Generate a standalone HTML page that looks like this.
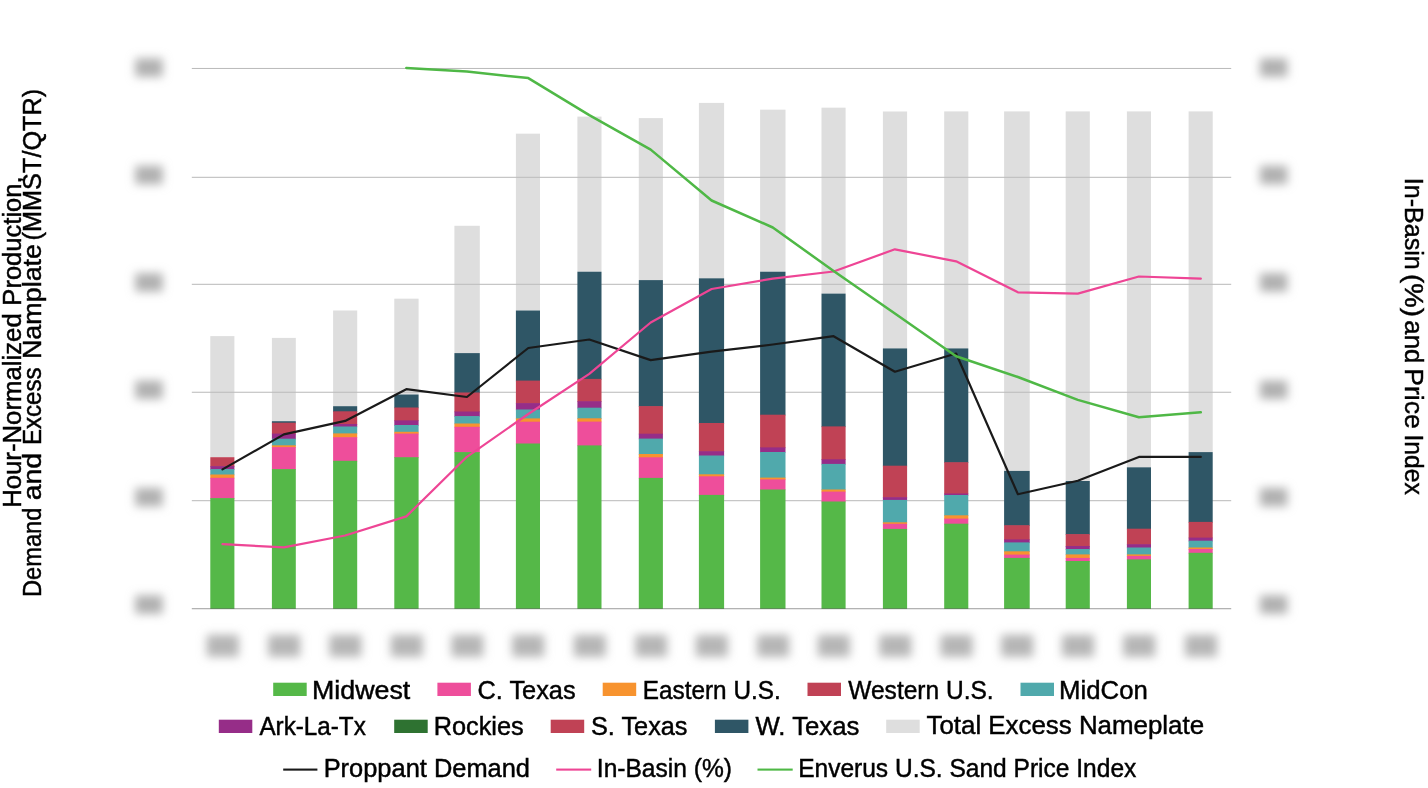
<!DOCTYPE html>
<html><head><meta charset="utf-8"><title>Chart</title>
<style>html,body{margin:0;padding:0;background:#fff;}body{width:1428px;height:788px;overflow:hidden;}svg{display:block;will-change:transform;}text{font-family:"Liberation Sans",sans-serif;fill:#000;stroke:#000;stroke-width:0.45px;}</style>
</head><body>
<svg width="1428" height="788" viewBox="0 0 1428 788">
<defs><filter id="b" x="-100%" y="-150%" width="300%" height="400%"><feGaussianBlur stdDeviation="5"/></filter></defs>
<rect x="191.8" y="67.95" width="1039.4" height="1" fill="#B9B9B9"/>
<rect x="191.8" y="176.80" width="1039.4" height="1" fill="#B9B9B9"/>
<rect x="191.8" y="283.80" width="1039.4" height="1" fill="#B9B9B9"/>
<rect x="191.8" y="391.75" width="1039.4" height="1" fill="#B9B9B9"/>
<rect x="191.8" y="500.20" width="1039.4" height="1" fill="#B9B9B9"/>
<rect x="210.3" y="336.1" width="24.1" height="121.1" fill="#BEBEBE" fill-opacity="0.5"/>
<rect x="210.3" y="457.2" width="24.1" height="9.6" fill="#C04255"/>
<rect x="210.3" y="466.1" width="24.1" height="3.7" fill="#962D88"/>
<rect x="210.3" y="469.1" width="24.1" height="6.1" fill="#50A9AC"/>
<rect x="210.3" y="474.5" width="24.1" height="4.0" fill="#F7932F"/>
<rect x="210.3" y="477.8" width="24.1" height="21.0" fill="#EE4E9B"/>
<rect x="210.3" y="498.1" width="24.1" height="110.8" fill="#55B848"/>
<rect x="271.9" y="337.9" width="23.9" height="83.3" fill="#BEBEBE" fill-opacity="0.5"/>
<rect x="271.9" y="421.2" width="23.9" height="2.2" fill="#2F5666"/>
<rect x="271.9" y="422.7" width="23.9" height="11.6" fill="#C04255"/>
<rect x="271.9" y="433.6" width="23.9" height="5.8" fill="#962D88"/>
<rect x="271.9" y="438.7" width="23.9" height="7.3" fill="#50A9AC"/>
<rect x="271.9" y="445.3" width="23.9" height="2.5" fill="#F7932F"/>
<rect x="271.9" y="447.1" width="23.9" height="22.7" fill="#EE4E9B"/>
<rect x="271.9" y="469.1" width="23.9" height="139.8" fill="#55B848"/>
<rect x="333.1" y="310.5" width="24.1" height="95.7" fill="#BEBEBE" fill-opacity="0.5"/>
<rect x="333.1" y="406.2" width="24.1" height="5.8" fill="#2F5666"/>
<rect x="333.1" y="411.3" width="24.1" height="13.4" fill="#C04255"/>
<rect x="333.1" y="424.0" width="24.1" height="3.2" fill="#962D88"/>
<rect x="333.1" y="426.5" width="24.1" height="7.6" fill="#50A9AC"/>
<rect x="333.1" y="433.4" width="24.1" height="4.5" fill="#F7932F"/>
<rect x="333.1" y="437.2" width="24.1" height="24.3" fill="#EE4E9B"/>
<rect x="333.1" y="460.8" width="24.1" height="148.1" fill="#55B848"/>
<rect x="394.3" y="298.7" width="24.3" height="95.8" fill="#BEBEBE" fill-opacity="0.5"/>
<rect x="394.3" y="394.5" width="24.3" height="13.7" fill="#2F5666"/>
<rect x="394.3" y="407.5" width="24.3" height="13.6" fill="#C04255"/>
<rect x="394.3" y="420.4" width="24.3" height="5.3" fill="#962D88"/>
<rect x="394.3" y="425.0" width="24.3" height="7.5" fill="#50A9AC"/>
<rect x="394.3" y="431.8" width="24.3" height="2.5" fill="#F7932F"/>
<rect x="394.3" y="433.6" width="24.3" height="24.3" fill="#EE4E9B"/>
<rect x="394.3" y="457.2" width="24.3" height="151.7" fill="#55B848"/>
<rect x="454.4" y="225.8" width="25.4" height="127.3" fill="#BEBEBE" fill-opacity="0.5"/>
<rect x="454.4" y="353.1" width="25.4" height="40.1" fill="#2F5666"/>
<rect x="454.4" y="392.5" width="25.4" height="19.7" fill="#C04255"/>
<rect x="454.4" y="411.5" width="25.4" height="5.3" fill="#962D88"/>
<rect x="454.4" y="416.1" width="25.4" height="8.1" fill="#50A9AC"/>
<rect x="454.4" y="423.5" width="25.4" height="4.0" fill="#F7932F"/>
<rect x="454.4" y="426.8" width="25.4" height="26.0" fill="#EE4E9B"/>
<rect x="454.4" y="452.1" width="25.4" height="156.8" fill="#55B848"/>
<rect x="515.9" y="133.7" width="24.1" height="176.8" fill="#BEBEBE" fill-opacity="0.5"/>
<rect x="515.9" y="310.5" width="24.1" height="70.8" fill="#2F5666"/>
<rect x="515.9" y="380.6" width="24.1" height="23.2" fill="#C04255"/>
<rect x="515.9" y="403.1" width="24.1" height="7.1" fill="#962D88"/>
<rect x="515.9" y="409.5" width="24.1" height="9.6" fill="#50A9AC"/>
<rect x="515.9" y="418.4" width="24.1" height="4.0" fill="#F7932F"/>
<rect x="515.9" y="421.7" width="24.1" height="22.5" fill="#EE4E9B"/>
<rect x="515.9" y="443.5" width="24.1" height="165.4" fill="#55B848"/>
<rect x="577.4" y="116.6" width="24.1" height="155.1" fill="#BEBEBE" fill-opacity="0.5"/>
<rect x="577.4" y="271.7" width="24.1" height="107.9" fill="#2F5666"/>
<rect x="577.4" y="378.9" width="24.1" height="23.0" fill="#C04255"/>
<rect x="577.4" y="401.2" width="24.1" height="7.2" fill="#962D88"/>
<rect x="577.4" y="407.7" width="24.1" height="11.3" fill="#50A9AC"/>
<rect x="577.4" y="418.3" width="24.1" height="4.0" fill="#F7932F"/>
<rect x="577.4" y="421.6" width="24.1" height="24.5" fill="#EE4E9B"/>
<rect x="577.4" y="445.4" width="24.1" height="163.5" fill="#55B848"/>
<rect x="638.8" y="118.1" width="24.1" height="162.0" fill="#BEBEBE" fill-opacity="0.5"/>
<rect x="638.8" y="280.1" width="24.1" height="126.7" fill="#2F5666"/>
<rect x="638.8" y="406.1" width="24.1" height="28.3" fill="#C04255"/>
<rect x="638.8" y="433.7" width="24.1" height="5.6" fill="#962D88"/>
<rect x="638.8" y="438.6" width="24.1" height="16.1" fill="#50A9AC"/>
<rect x="638.8" y="454.0" width="24.1" height="4.0" fill="#F7932F"/>
<rect x="638.8" y="457.3" width="24.1" height="21.3" fill="#EE4E9B"/>
<rect x="638.8" y="477.9" width="24.1" height="131.0" fill="#55B848"/>
<rect x="698.9" y="102.9" width="25.2" height="175.4" fill="#BEBEBE" fill-opacity="0.5"/>
<rect x="698.9" y="278.3" width="25.2" height="145.4" fill="#2F5666"/>
<rect x="698.9" y="423.0" width="25.2" height="28.9" fill="#C04255"/>
<rect x="698.9" y="451.2" width="25.2" height="5.0" fill="#962D88"/>
<rect x="698.9" y="455.5" width="25.2" height="19.5" fill="#50A9AC"/>
<rect x="698.9" y="474.3" width="25.2" height="2.7" fill="#F7932F"/>
<rect x="698.9" y="476.3" width="25.2" height="19.3" fill="#EE4E9B"/>
<rect x="698.9" y="494.9" width="25.2" height="114.0" fill="#55B848"/>
<rect x="760.1" y="109.7" width="25.4" height="162.0" fill="#BEBEBE" fill-opacity="0.5"/>
<rect x="760.1" y="271.7" width="25.4" height="143.7" fill="#2F5666"/>
<rect x="760.1" y="414.7" width="25.4" height="33.4" fill="#C04255"/>
<rect x="760.1" y="447.4" width="25.4" height="5.3" fill="#962D88"/>
<rect x="760.1" y="452.0" width="25.4" height="26.3" fill="#50A9AC"/>
<rect x="760.1" y="477.6" width="25.4" height="2.5" fill="#F7932F"/>
<rect x="760.1" y="479.4" width="25.4" height="10.8" fill="#EE4E9B"/>
<rect x="760.1" y="489.5" width="25.4" height="119.4" fill="#55B848"/>
<rect x="821.5" y="107.7" width="24.1" height="185.9" fill="#BEBEBE" fill-opacity="0.5"/>
<rect x="821.5" y="293.6" width="24.1" height="133.5" fill="#2F5666"/>
<rect x="821.5" y="426.4" width="24.1" height="33.6" fill="#C04255"/>
<rect x="821.5" y="459.3" width="24.1" height="5.3" fill="#962D88"/>
<rect x="821.5" y="463.9" width="24.1" height="26.3" fill="#50A9AC"/>
<rect x="821.5" y="489.5" width="24.1" height="2.8" fill="#F7932F"/>
<rect x="821.5" y="491.6" width="24.1" height="10.6" fill="#EE4E9B"/>
<rect x="821.5" y="501.5" width="24.1" height="107.4" fill="#55B848"/>
<rect x="882.9" y="111.5" width="24.2" height="236.9" fill="#BEBEBE" fill-opacity="0.5"/>
<rect x="882.9" y="348.4" width="24.2" height="118.0" fill="#2F5666"/>
<rect x="882.9" y="465.7" width="24.2" height="32.2" fill="#C04255"/>
<rect x="882.9" y="497.2" width="24.2" height="3.4" fill="#962D88"/>
<rect x="882.9" y="499.9" width="24.2" height="23.1" fill="#50A9AC"/>
<rect x="882.9" y="522.3" width="24.2" height="2.2" fill="#F7932F"/>
<rect x="882.9" y="523.8" width="24.2" height="5.8" fill="#EE4E9B"/>
<rect x="882.9" y="528.9" width="24.2" height="80.0" fill="#55B848"/>
<rect x="944.2" y="111.4" width="24.1" height="237.0" fill="#BEBEBE" fill-opacity="0.5"/>
<rect x="944.2" y="348.4" width="24.1" height="114.5" fill="#2F5666"/>
<rect x="944.2" y="462.2" width="24.1" height="32.0" fill="#C04255"/>
<rect x="944.2" y="493.5" width="24.1" height="2.2" fill="#962D88"/>
<rect x="944.2" y="495.0" width="24.1" height="21.0" fill="#50A9AC"/>
<rect x="944.2" y="515.3" width="24.1" height="4.0" fill="#F7932F"/>
<rect x="944.2" y="518.6" width="24.1" height="5.8" fill="#EE4E9B"/>
<rect x="944.2" y="523.7" width="24.1" height="85.2" fill="#55B848"/>
<rect x="1004.1" y="111.4" width="25.6" height="359.5" fill="#BEBEBE" fill-opacity="0.5"/>
<rect x="1004.1" y="470.9" width="25.6" height="55.0" fill="#2F5666"/>
<rect x="1004.1" y="525.2" width="25.6" height="14.9" fill="#C04255"/>
<rect x="1004.1" y="539.4" width="25.6" height="3.7" fill="#962D88"/>
<rect x="1004.1" y="542.4" width="25.6" height="9.6" fill="#50A9AC"/>
<rect x="1004.1" y="551.3" width="25.6" height="4.0" fill="#F7932F"/>
<rect x="1004.1" y="554.6" width="25.6" height="4.0" fill="#EE4E9B"/>
<rect x="1004.1" y="557.9" width="25.6" height="51.0" fill="#55B848"/>
<rect x="1065.7" y="111.4" width="24.1" height="369.6" fill="#BEBEBE" fill-opacity="0.5"/>
<rect x="1065.7" y="481.0" width="24.1" height="53.8" fill="#2F5666"/>
<rect x="1065.7" y="534.1" width="24.1" height="12.6" fill="#C04255"/>
<rect x="1065.7" y="546.0" width="24.1" height="3.7" fill="#962D88"/>
<rect x="1065.7" y="549.0" width="24.1" height="6.1" fill="#50A9AC"/>
<rect x="1065.7" y="554.4" width="24.1" height="4.2" fill="#F7932F"/>
<rect x="1065.7" y="557.9" width="24.1" height="3.8" fill="#EE4E9B"/>
<rect x="1065.7" y="561.0" width="24.1" height="47.9" fill="#55B848"/>
<rect x="1126.9" y="111.4" width="24.1" height="355.9" fill="#BEBEBE" fill-opacity="0.5"/>
<rect x="1126.9" y="467.3" width="24.1" height="62.1" fill="#2F5666"/>
<rect x="1126.9" y="528.7" width="24.1" height="16.2" fill="#C04255"/>
<rect x="1126.9" y="544.2" width="24.1" height="4.0" fill="#962D88"/>
<rect x="1126.9" y="547.5" width="24.1" height="7.6" fill="#50A9AC"/>
<rect x="1126.9" y="554.4" width="24.1" height="2.2" fill="#F7932F"/>
<rect x="1126.9" y="555.9" width="24.1" height="4.2" fill="#EE4E9B"/>
<rect x="1126.9" y="559.4" width="24.1" height="49.5" fill="#55B848"/>
<rect x="1188.6" y="111.4" width="24.1" height="340.7" fill="#BEBEBE" fill-opacity="0.5"/>
<rect x="1188.6" y="452.1" width="24.1" height="70.5" fill="#2F5666"/>
<rect x="1188.6" y="521.9" width="24.1" height="16.4" fill="#C04255"/>
<rect x="1188.6" y="537.6" width="24.1" height="3.8" fill="#962D88"/>
<rect x="1188.6" y="540.7" width="24.1" height="7.5" fill="#50A9AC"/>
<rect x="1188.6" y="547.5" width="24.1" height="2.2" fill="#F7932F"/>
<rect x="1188.6" y="549.0" width="24.1" height="4.5" fill="#EE4E9B"/>
<rect x="1188.6" y="552.8" width="24.1" height="56.1" fill="#55B848"/>
<rect x="191.8" y="608.10" width="1039.4" height="1.15" fill="#555555" fill-opacity="0.5"/>
<polyline points="222.5,469.4 283.9,434.4 345.2,420.9 406.3,389.2 466.9,397.0 528.3,348.0 589.3,339.5 650.7,360.1 711.6,351.7 772.8,344.5 833.6,336.2 894.9,371.7 956.1,353.5 1017.9,494.2 1077.8,480.8 1138.9,456.9 1200.8,456.9" fill="none" stroke="#1A1A1A" stroke-width="2.2" stroke-linejoin="round" stroke-linecap="round"/>
<polyline points="222.5,544.1 283.9,547.4 345.2,535.5 406.3,516.4 466.9,456.8 528.3,414.0 589.3,373.8 650.7,322.5 711.6,289.0 772.8,278.6 833.6,271.5 894.9,249.3 956.1,261.3 1017.9,292.3 1077.8,293.6 1138.9,276.5 1200.8,278.6" fill="none" stroke="#EE4595" stroke-width="2.2" stroke-linejoin="round" stroke-linecap="round"/>
<polyline points="406.3,68.0 466.9,71.5 528.3,78.1 589.3,115.1 650.7,149.6 711.6,200.5 772.8,227.5 833.6,271.0 894.9,313.5 956.1,356.2 1017.9,377.0 1077.8,399.9 1138.9,417.2 1200.8,412.3" fill="none" stroke="#4FB846" stroke-width="2.5" stroke-linejoin="round" stroke-linecap="round"/>
<rect x="135.3" y="58.4" width="27.4" height="18.4" fill="#B0B0B0" filter="url(#b)"/>
<rect x="1260.0" y="58.4" width="27.4" height="18.4" fill="#B0B0B0" filter="url(#b)"/>
<rect x="135.3" y="165.8" width="27.4" height="18.4" fill="#B0B0B0" filter="url(#b)"/>
<rect x="1260.0" y="165.8" width="27.4" height="18.4" fill="#B0B0B0" filter="url(#b)"/>
<rect x="135.3" y="273.2" width="27.4" height="18.4" fill="#B0B0B0" filter="url(#b)"/>
<rect x="1260.0" y="273.2" width="27.4" height="18.4" fill="#B0B0B0" filter="url(#b)"/>
<rect x="135.3" y="380.6" width="27.4" height="18.4" fill="#B0B0B0" filter="url(#b)"/>
<rect x="1260.0" y="380.6" width="27.4" height="18.4" fill="#B0B0B0" filter="url(#b)"/>
<rect x="135.3" y="488.0" width="27.4" height="18.4" fill="#B0B0B0" filter="url(#b)"/>
<rect x="1260.0" y="488.0" width="27.4" height="18.4" fill="#B0B0B0" filter="url(#b)"/>
<rect x="135.3" y="595.4" width="27.4" height="18.4" fill="#B0B0B0" filter="url(#b)"/>
<rect x="1260.0" y="595.4" width="27.4" height="18.4" fill="#B0B0B0" filter="url(#b)"/>
<rect x="206.7" y="634.8" width="32" height="22" fill="#B6B6B6" filter="url(#b)"/>
<rect x="268.2" y="634.8" width="32" height="22" fill="#B6B6B6" filter="url(#b)"/>
<rect x="329.4" y="634.8" width="32" height="22" fill="#B6B6B6" filter="url(#b)"/>
<rect x="390.8" y="634.8" width="32" height="22" fill="#B6B6B6" filter="url(#b)"/>
<rect x="451.4" y="634.8" width="32" height="22" fill="#B6B6B6" filter="url(#b)"/>
<rect x="512.2" y="634.8" width="32" height="22" fill="#B6B6B6" filter="url(#b)"/>
<rect x="573.8" y="634.8" width="32" height="22" fill="#B6B6B6" filter="url(#b)"/>
<rect x="635.1" y="634.8" width="32" height="22" fill="#B6B6B6" filter="url(#b)"/>
<rect x="695.8" y="634.8" width="32" height="22" fill="#B6B6B6" filter="url(#b)"/>
<rect x="757.1" y="634.8" width="32" height="22" fill="#B6B6B6" filter="url(#b)"/>
<rect x="817.8" y="634.8" width="32" height="22" fill="#B6B6B6" filter="url(#b)"/>
<rect x="879.3" y="634.8" width="32" height="22" fill="#B6B6B6" filter="url(#b)"/>
<rect x="940.5" y="634.8" width="32" height="22" fill="#B6B6B6" filter="url(#b)"/>
<rect x="1001.2" y="634.8" width="32" height="22" fill="#B6B6B6" filter="url(#b)"/>
<rect x="1062.0" y="634.8" width="32" height="22" fill="#B6B6B6" filter="url(#b)"/>
<rect x="1123.2" y="634.8" width="32" height="22" fill="#B6B6B6" filter="url(#b)"/>
<rect x="1185.0" y="634.8" width="32" height="22" fill="#B6B6B6" filter="url(#b)"/>
<rect x="273.2" y="682.7" width="33.5" height="13.3" fill="#55B848"/>
<text x="312.06" y="698.5" font-size="25" textLength="98.18" lengthAdjust="spacingAndGlyphs">Midwest</text>
<rect x="437.4" y="682.7" width="33.5" height="13.3" fill="#EE4E9B"/>
<text x="477.49" y="698.5" font-size="25" textLength="98.11" lengthAdjust="spacingAndGlyphs">C. Texas</text>
<rect x="602.7" y="682.7" width="33.5" height="13.3" fill="#F7932F"/>
<text x="642.85" y="698.5" font-size="25" textLength="137.84" lengthAdjust="spacingAndGlyphs">Eastern U.S.</text>
<rect x="807.5" y="682.7" width="33.5" height="13.3" fill="#C04255"/>
<text x="848.30" y="698.5" font-size="25" textLength="145.31" lengthAdjust="spacingAndGlyphs">Western U.S.</text>
<rect x="1020.5" y="682.7" width="33.5" height="13.3" fill="#50A9AC"/>
<text x="1059.14" y="698.5" font-size="25" textLength="88.69" lengthAdjust="spacingAndGlyphs">MidCon</text>
<rect x="218.8" y="719.7" width="33.5" height="13.3" fill="#962D88"/>
<text x="259.40" y="734.7" font-size="25" textLength="106.42" lengthAdjust="spacingAndGlyphs">Ark-La-Tx</text>
<rect x="394.2" y="719.7" width="33.5" height="13.3" fill="#2E7231"/>
<text x="433.67" y="734.7" font-size="25" textLength="90.03" lengthAdjust="spacingAndGlyphs">Rockies</text>
<rect x="550.7" y="719.7" width="33.5" height="13.3" fill="#C04255"/>
<text x="590.99" y="734.7" font-size="25" textLength="96.51" lengthAdjust="spacingAndGlyphs">S. Texas</text>
<rect x="714.9" y="719.7" width="33.5" height="13.3" fill="#2F5666"/>
<text x="755.50" y="734.7" font-size="25" textLength="103.91" lengthAdjust="spacingAndGlyphs">W. Texas</text>
<rect x="886.2" y="719.7" width="33.5" height="13.3" fill="#DEDEDE"/>
<text x="926.50" y="733.7" font-size="25" textLength="277.54" lengthAdjust="spacingAndGlyphs">Total Excess Nameplate</text>
<rect x="283.2" y="768.55" width="34.2" height="2.1" fill="#1A1A1A"/>
<text x="323.67" y="776.8" font-size="25" textLength="206.35" lengthAdjust="spacingAndGlyphs">Proppant Demand</text>
<rect x="556.2" y="768.55" width="35" height="2.1" fill="#EE4595"/>
<text x="596.84" y="776.8" font-size="25" textLength="135.07" lengthAdjust="spacingAndGlyphs">In-Basin (%)</text>
<rect x="757.5" y="768.55" width="35.2" height="2.1" fill="#4FB846"/>
<text x="798.14" y="776.8" font-size="25" textLength="338.17" lengthAdjust="spacingAndGlyphs">Enverus U.S. Sand Price Index</text>
<text transform="translate(20.50,507.86) rotate(-90)" font-size="25" textLength="194.60" lengthAdjust="spacingAndGlyphs">Hour-Normalized</text>
<text transform="translate(20.50,305.64) rotate(-90)" font-size="25" textLength="129.21" lengthAdjust="spacingAndGlyphs">Production,</text>
<text transform="translate(41.30,597.09) rotate(-90)" font-size="25" textLength="89.53" lengthAdjust="spacingAndGlyphs">Demand</text>
<text transform="translate(41.30,500.28) rotate(-90)" font-size="25" textLength="47.49" lengthAdjust="spacingAndGlyphs">and</text>
<text transform="translate(41.30,445.03) rotate(-90)" font-size="25" textLength="77.65" lengthAdjust="spacingAndGlyphs">Excess</text>
<text transform="translate(41.30,359.05) rotate(-90)" font-size="25" textLength="115.05" lengthAdjust="spacingAndGlyphs">Namplate</text>
<text transform="translate(41.30,240.42) rotate(-90)" font-size="25" textLength="151.62" lengthAdjust="spacingAndGlyphs">(MMST/QTR)</text>
<text transform="translate(1405.40,177.84) rotate(90)" font-size="25" textLength="91.95" lengthAdjust="spacingAndGlyphs">In-Basin</text>
<text transform="translate(1405.40,274.05) rotate(90)" font-size="25" textLength="42.81" lengthAdjust="spacingAndGlyphs">(%)</text>
<text transform="translate(1405.40,320.34) rotate(90)" font-size="25" textLength="43.10" lengthAdjust="spacingAndGlyphs">and</text>
<text transform="translate(1405.40,368.17) rotate(90)" font-size="25" textLength="60.68" lengthAdjust="spacingAndGlyphs">Price</text>
<text transform="translate(1405.40,434.38) rotate(90)" font-size="25" textLength="60.40" lengthAdjust="spacingAndGlyphs">Index</text>
</svg></body></html>
